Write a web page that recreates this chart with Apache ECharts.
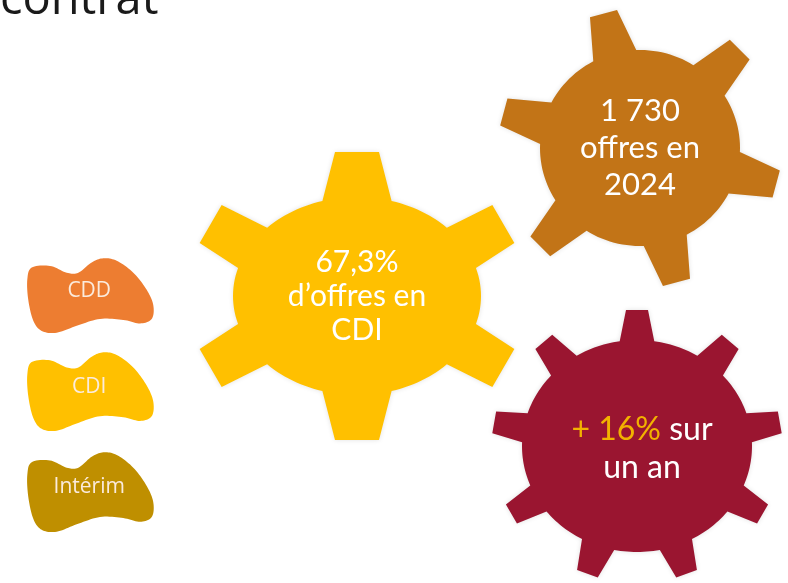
<!DOCTYPE html>
<html><head><meta charset="utf-8">
<script src="https://cdn.jsdelivr.net/npm/echarts@6/dist/echarts.min.js"></script>
<style>html,body{margin:0;padding:0;background:#fff}#c{width:788px;height:583px}</style>
</head><body><div id="c"></div>
<script>
// ---- data ----
const titleText = 'contrat';
const legendLabels = ['CDD', 'CDI', 'Intérim'];
const kpiValues = ['67,3%', '1 730', '+ 16%'];
const kpiLine1Suffix = ['', '', ' sur'];
const kpiRestLines = [['d’offres en', 'CDI'], ['offres en', '2024'], ['un an']];

// ---- styles / layout ----
const legendColors = ['#ED7D31', '#FFC000', '#BF8F00'];
const legendBoxes = [[27, 258, 127, 75], [27, 352, 127, 79], [27, 452, 127, 80]];
const gearLayout = [
  {cx: 357, cy: 296, rx: 124, ry: 99, L: 45, baseW: 56, tipW: 44, n: 6, start: 90, color: '#FFC000',
   font: 30, lh: 34, dy: 0, dx: 0, valueColor: '#FFFFFF'},
  {cx: 640, cy: 148, rx: 100, ry: 98, L: 41, baseW: 44, tipW: 28, n: 6, start: 105, color: '#C27417',
   font: 31, lh: 37, dy: 0, dx: 0, valueColor: '#FFFFFF'},
  {cx: 637, cy: 446, rx: 115, ry: 106, L: 30, baseW: 32, tipW: 22, n: 9, start: 90, color: '#9A1530',
   font: 32, lh: 38, dy: 3, dx: 5, valueColor: '#F2B200'}
];
const blobPts = [[4.7,9.3],[23,7.7],[39.7,14.3],[51.3,14.3],[64.7,4.3],[76.3,0.3],[89.7,2.7],[106.3,14.3],[119.7,31],[126.3,46],[124.7,59.3],[113,63.7],[96.3,60.3],[73,59.3],[49.7,66],[29.7,72.7],[14.7,71],[6.3,61],[1.3,41],[0.3,21]];

function gearPoints(g) {
  const pts = [];
  const step = 2 * Math.PI / g.n;
  const s0 = g.start * Math.PI / 180;
  const E = a => [g.cx + g.rx * Math.cos(a), g.cy - g.ry * Math.sin(a)];
  for (let k = 0; k < g.n; k++) {
    const a = s0 + k * step;
    const B = E(a);
    const u = [Math.cos(a), -Math.sin(a)];
    const v = [-Math.sin(a), -Math.cos(a)];
    const rLoc = Math.hypot(g.rx * Math.cos(a), g.ry * Math.sin(a));
    const da = (g.baseW / 2) / rLoc;
    const b1 = E(a - da), b2 = E(a + da);
    const t1 = [B[0] + u[0] * g.L - v[0] * g.tipW / 2, B[1] + u[1] * g.L - v[1] * g.tipW / 2];
    const t2 = [B[0] + u[0] * g.L + v[0] * g.tipW / 2, B[1] + u[1] * g.L + v[1] * g.tipW / 2];
    pts.push(b1, t1, t2, b2);
    const an = a + step;
    const rN = Math.hypot(g.rx * Math.cos(an), g.ry * Math.sin(an));
    const a1 = a + da, a2 = an - (g.baseW / 2) / rN;
    const m = 14;
    for (let i = 1; i < m; i++) pts.push(E(a1 + (a2 - a1) * i / m));
  }
  return pts;
}

function blobPoints(box) {
  const sx = box[2] / 127, sy = box[3] / 73;
  const p = blobPts.map(q => [box[0] + q[0] * sx, box[1] + q[1] * sy]);
  const n = p.length, out = [];
  for (let i = 0; i < n; i++) {
    const p0 = p[(i - 1 + n) % n], p1 = p[i], p2 = p[(i + 1) % n], p3 = p[(i + 2) % n];
    const c1 = [p1[0] + (p2[0] - p0[0]) / 6, p1[1] + (p2[1] - p0[1]) / 6];
    const c2 = [p2[0] - (p3[0] - p1[0]) / 6, p2[1] - (p3[1] - p1[1]) / 6];
    for (let s = 0; s < 10; s++) {
      const t = s / 10, w = 1 - t;
      out.push([
        w*w*w*p1[0] + 3*w*w*t*c1[0] + 3*w*t*t*c2[0] + t*t*t*p2[0],
        w*w*w*p1[1] + 3*w*w*t*c1[1] + 3*w*t*t*c2[1] + t*t*t*p2[1]
      ]);
    }
  }
  return out;
}

const elements = [];
elements.push({type: 'text', style: {text: titleText, x: 0, y: 1, textVerticalAlign: 'middle', font: '47px "Open Sans"', fill: '#1a1a1a'}});

legendLabels.forEach((lab, i) => {
  const b = legendBoxes[i];
  elements.push({type: 'polygon', shape: {points: blobPoints(b)}, style: {fill: legendColors[i]}});
  elements.push({type: 'text', style: {text: lab, x: b[0] + b[2] * 0.49, y: b[1] + b[3] * 0.44, textAlign: 'center', textVerticalAlign: 'middle',
    font: '21px "Open Sans"', fill: '#FBEBDD'}});
});

gearLayout.forEach((g, i) => {
  elements.push({type: 'polygon', shape: {points: gearPoints(g)},
    style: {fill: g.color, shadowBlur: 5, shadowColor: 'rgba(0,0,0,0.12)'}});
  const lines = [{t: kpiValues[i], c: g.valueColor, suf: kpiLine1Suffix[i]}].concat(kpiRestLines[i].map(t => ({t: t, c: '#FFFFFF', suf: ''})));
  const total = lines.length;
  lines.forEach((ln, j) => {
    const y = g.cy - (total - 1) * g.lh / 2 + j * g.lh + g.dy;
    const rich = ln.suf ? '{v|' + ln.t + '}{w|' + ln.suf + '}' : '{' + (j === 0 ? 'v' : 'w') + '|' + ln.t + '}';
    elements.push({type: 'text', style: {text: rich, x: g.cx + g.dx, y: y, textAlign: 'center', textVerticalAlign: 'middle',
      rich: {v: {font: g.font + 'px Lato', fill: ln.c}, w: {font: g.font + 'px Lato', fill: '#FFFFFF'}}}});
  });
});

const chart = echarts.init(document.getElementById('c'));
chart.setOption({backgroundColor: '#ffffff', animation: false, graphic: {elements: elements}});
</script></body></html>
